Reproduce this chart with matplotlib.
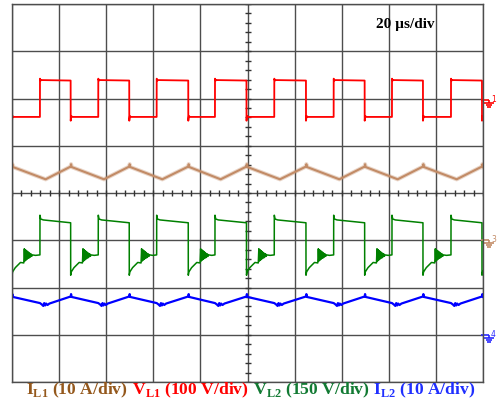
import numpy as np
import matplotlib
matplotlib.use("Agg")
import matplotlib.pyplot as plt
from matplotlib.path import Path

plt.rcParams["mathtext.fontset"] = "custom"
plt.rcParams["mathtext.rm"] = "Liberation Serif"
plt.rcParams["mathtext.bf"] = "Liberation Serif:bold"

# ---------------------------------------------------------------
# values (x in time divisions, y in
# vertical divisions counted from the bottom of the screen)
# ---------------------------------------------------------------

# switching edges
fall_t = [0.000, 1.246, 2.490, 3.743, 4.979, 6.242, 7.488, 8.726, 9.979]
rise_t = [0.594, 1.832, 3.072, 4.310, 5.569, 6.830, 8.068, 9.321]

# V_L1 (red) around each edge
vl1_fall_dt = [-0.001, 0.0, 0.012, 0.035]
vl1_fall_v = [6.38, 5.53, 5.63, 5.61]
vl1_rise_dt = [-0.001, 0.0, 0.012, 0.035]
vl1_rise_v = [5.61, 6.42, 6.38, 6.39]

# V_L2 (green) around each edge, incl. the ringing after turn-off
vl2_fall_dt = [-0.001, 0.0, 0.012, 0.07, 0.18, 0.25, 0.262, 0.274, 0.286,
               0.298, 0.310, 0.322, 0.334, 0.346, 0.358, 0.370, 0.382,
               0.394, 0.406, 0.418, 0.43, 0.50]
vl2_fall_v = [3.37, 2.26, 2.33, 2.42, 2.53, 2.52, 2.82, 2.56, 2.80,
              2.58, 2.78, 2.60, 2.76, 2.62, 2.74, 2.63, 2.72,
              2.65, 2.71, 2.66, 2.69, 2.68]
vl2_rise_dt = [-0.001, 0.0, 0.015, 0.07]
vl2_rise_v = [2.69, 3.53, 3.45, 3.43]

# I_L1 (brown) peaks at turn-off, valleys just after turn-on
il1_fall_dt = [0.0, 0.008, 0.02]
il1_fall_v = [4.56, 4.61, 4.55]
il1_rise_dt = [0.12]
il1_rise_v = [4.29]

# I_L2 (blue)
il2_fall_dt = [0.0, 0.008, 0.02]
il2_fall_v = [1.81, 1.86, 1.80]
il2_rise_dt = [0.0, 0.04, 0.07, 0.09, 0.11, 0.13, 0.16, 0.20]
il2_rise_v = [1.67, 1.64, 1.61, 1.67, 1.62, 1.66, 1.63, 1.66]

# channel ground markers (right side)
gnd_levels = [5.97, 3.00, 0.99]
gnd_labels = ["1", "3", "4"]
gnd_colors = ["#ff0000", "#c28b66", "#2a2aff"]

labels = [r"$\mathbf{I}_{\mathbf{L1}}$ (10 A/div)",
          r" $\mathbf{V}_{\mathbf{L1}}$ (100 V/div)",
          r" $\mathbf{V}_{\mathbf{L2}}$ (150 V/div)",
          r" $\mathbf{I}_{\mathbf{L2}}$ (10 A/div)"]
label_colors = ["#94581c", "#ff0000", "#127a33", "#1f2fff"]


def build(events):
    pts = []
    for times, dts, vals in events:
        for t in times:
            for d, v in zip(dts, vals):
                pts.append((t + d, v))
    pts.sort()
    arr = np.array(pts)
    return arr[:, 0], arr[:, 1]


fig = plt.figure(figsize=(4.97, 4.09), dpi=100)
ax = fig.add_axes([12 / 497, 27 / 409, 471 / 497, 378 / 409])
ax.set_xlim(0, 10)
ax.set_ylim(0, 8)

# grid
ax.set_xticks(range(11))
ax.set_yticks(range(9))
ax.tick_params(length=0, labelbottom=False, labelleft=False)
ax.grid(color="#4d4d4d", linewidth=1.0)
for sp in ax.spines.values():
    sp.set_color("#4d4d4d")
    sp.set_linewidth(1.0)

# centre graticule ticks
xs = np.arange(0, 10.01, 0.2)
ys = np.arange(0, 8.01, 0.2)
ax.plot(xs, np.full_like(xs, 4.0), ls="none", marker="|", ms=4,
        mew=1.0, color="#333333")
ax.plot(np.full_like(ys, 5.0), ys, ls="none", marker="_", ms=4,
        mew=1.0, color="#333333")

# traces
il1_x, il1_y = build([(fall_t, il1_fall_dt, il1_fall_v),
                      (rise_t, il1_rise_dt, il1_rise_v)])
vl1_x, vl1_y = build([(fall_t, vl1_fall_dt, vl1_fall_v),
                      (rise_t, vl1_rise_dt, vl1_rise_v)])
vl2_x, vl2_y = build([(fall_t, vl2_fall_dt, vl2_fall_v),
                      (rise_t, vl2_rise_dt, vl2_rise_v)])
il2_x, il2_y = build([(fall_t, il2_fall_dt, il2_fall_v),
                      (rise_t, il2_rise_dt, il2_rise_v)])

ax.plot(il1_x, il1_y, color="#c28b66", lw=3.0, alpha=0.35)
ax.plot(il1_x, il1_y, color="#c28b66", lw=1.5)
ax.plot(vl1_x, vl1_y, color="#ff0000", lw=1.3)
ax.plot(vl2_x, vl2_y, color="#008000", lw=1.1)
ax.plot(il2_x, il2_y, color="#0000ff", lw=1.6)

# ground symbols
gnd = Path([(-1.0, 0), (0, 0), (0, 0), (0, -0.45),
            (-0.6, -0.45), (0.6, -0.45), (-0.4, -0.7), (0.4, -0.7),
            (-0.2, -0.95), (0.2, -0.95)],
           [Path.MOVETO, Path.LINETO, Path.MOVETO, Path.LINETO,
            Path.MOVETO, Path.LINETO, Path.MOVETO, Path.LINETO,
            Path.MOVETO, Path.LINETO])
for lev, lab, c in zip(gnd_levels, gnd_labels, gnd_colors):
    ax.plot([10.13], [lev], marker=gnd, ms=11, mew=1.2, mec=c,
            color=c, clip_on=False)
    ax.text(10.17, lev + 0.01, lab, color=c, fontsize=5.5,
            va="center", ha="left", clip_on=False)

ax.text(7.73, 7.50, "20 µs/div", fontsize=11, fontweight="bold",
        family="Liberation Serif", ha="left", va="baseline")

# bottom legend text, one coloured piece after the other
prev = fig.text(26 / 497, 9 / 409, labels[0], color=label_colors[0],
                fontsize=12.6, fontweight="bold", family="Liberation Serif",
                va="bottom")
for lab, c in zip(labels[1:], label_colors[1:]):
    prev = ax.annotate(lab, xy=(1, 0), xycoords=prev, va="bottom",
                       ha="left", color=c, fontsize=12.6,
                       fontweight="bold", family="Liberation Serif",
                       annotation_clip=False)

fig.savefig("out.png", dpi=100, facecolor="white")
